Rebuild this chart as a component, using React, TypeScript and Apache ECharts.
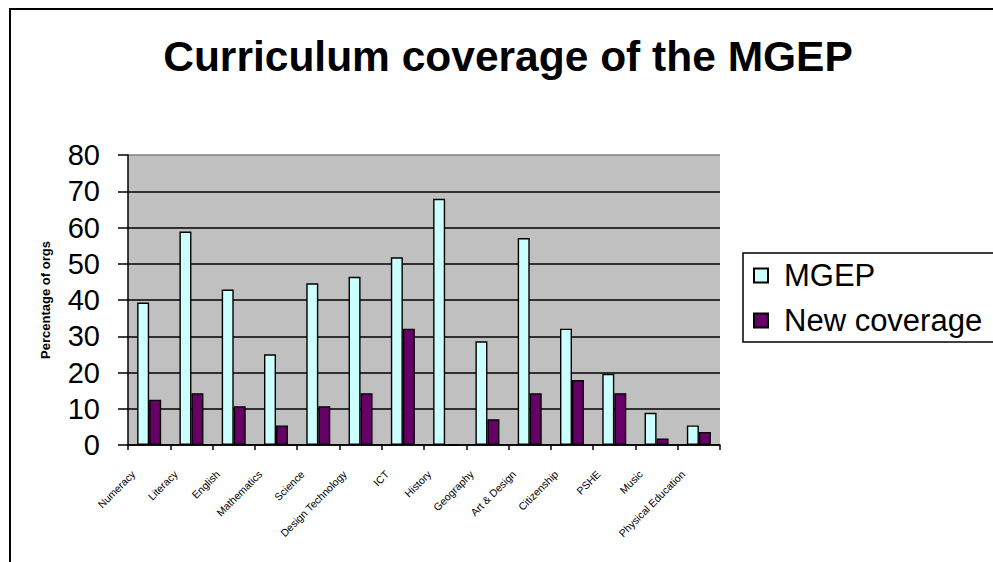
import React, { useEffect, useRef } from "react";
import * as echarts from "echarts";

const categories = [
  "Numeracy",
  "Literacy",
  "English",
  "Mathematics",
  "Science",
  "Design Technology",
  "ICT",
  "History",
  "Geography",
  "Art & Design",
  "Citizenship",
  "PSHE",
  "Music",
  "Physical Education",
];
const mgepValues = [39.3, 58.9, 42.9, 25.0, 44.6, 46.4, 51.8, 67.9, 28.6, 57.1, 32.1, 19.6, 8.9, 5.4];
const newCoverageValues = [12.5, 14.3, 10.7, 5.4, 10.7, 14.3, 32.1, 0, 7.1, 14.3, 17.9, 14.3, 1.8, 3.6];
const seriesNames = ["MGEP", "New coverage"];
const titleText = "Curriculum coverage of the MGEP";
const yAxisName = "Percentage of orgs";

const FONT = "'Liberation Sans', Arial, sans-serif";

export default function App() {
  const ref = useRef<HTMLDivElement>(null);
  useEffect(() => {
    if (!ref.current) return;
    const chart = echarts.init(ref.current, undefined, { renderer: "svg" });
    chart.setOption({
      animation: false,
      backgroundColor: "#ffffff",
      textStyle: { fontFamily: FONT, color: "#000" },
      graphic: [
        {
          type: "rect",
          shape: { x: 10, y: 9, width: 1100, height: 700 },
          style: { fill: "none", stroke: "#000", lineWidth: 2 },
          silent: true,
        },
        {
          type: "rect",
          shape: { x: 743, y: 253, width: 400, height: 89 },
          style: { fill: "none", stroke: "#000", lineWidth: 1.5 },
          silent: true,
        },
        {
          type: "text",
          x: 508,
          y: 56.5,
          style: {
            text: titleText,
            fontFamily: FONT,
            fontSize: 42.5,
            fontWeight: "bold",
            fill: "#000",
            align: "center",
            verticalAlign: "middle",
          },
        },
      ],
      legend: {
        orient: "vertical",
        left: 753,
        top: 260,
        padding: 0,
        itemWidth: 14,
        itemHeight: 14,
        itemGap: 14,
        icon: "rect",
        data: seriesNames,
        textStyle: { fontSize: 31, fontFamily: FONT, color: "#000", padding: [0, 0, 0, 11] },
      },
      grid: {
        left: 128,
        top: 155,
        right: 273,
        bottom: 117,
        show: true,
        backgroundColor: "#C0C0C0",
        borderWidth: 0,
      },
      xAxis: {
        type: "category",
        data: categories,
        axisLine: { show: true, lineStyle: { color: "#000", width: 1.5 } },
        axisTick: { show: true, length: 5, lineStyle: { color: "#000", width: 1.5 } },
        axisLabel: {
          interval: 0,
          rotate: 45,
          fontSize: 10.5,
          fontFamily: FONT,
          color: "#000",
          margin: 12,
          padding: [0, 22, 0, 0],
        },
      },
      yAxis: {
        type: "value",
        min: 0,
        max: 80,
        interval: 10,
        name: yAxisName,
        nameLocation: "middle",
        nameRotate: 90,
        nameGap: 76,
        nameTextStyle: { fontSize: 13, fontWeight: "bold", fontFamily: FONT, color: "#000" },
        axisLine: { show: true, lineStyle: { color: "#000", width: 1.5 } },
        axisTick: { show: true, length: 10, lineStyle: { color: "#000", width: 1.5 } },
        axisLabel: { fontSize: 29, fontFamily: FONT, color: "#000", margin: 28 },
        splitLine: {
          show: true,
          lineStyle: {
            color: ["#000", "#000", "#000", "#000", "#000", "#000", "#000", "#000", "#808080"],
            width: 1.5,
          },
        },
      },
      series: [
        {
          name: seriesNames[0],
          type: "bar",
          data: mgepValues,
          barWidth: 12,
          barGap: "0%",
          itemStyle: { color: "#CCFFFF", borderColor: "#000", borderWidth: 1.4 },
        },
        {
          name: seriesNames[1],
          type: "bar",
          data: newCoverageValues,
          barWidth: 12,
          barGap: "0%",
          itemStyle: { color: "#660066", borderColor: "#000", borderWidth: 1.4 },
        },
      ],
    });
    return () => chart.dispose();
  }, []);
  return (
    <div
      ref={ref}
      style={{ position: "fixed", left: 0, top: 0, width: 993, height: 562 }}
    />
  );
}
